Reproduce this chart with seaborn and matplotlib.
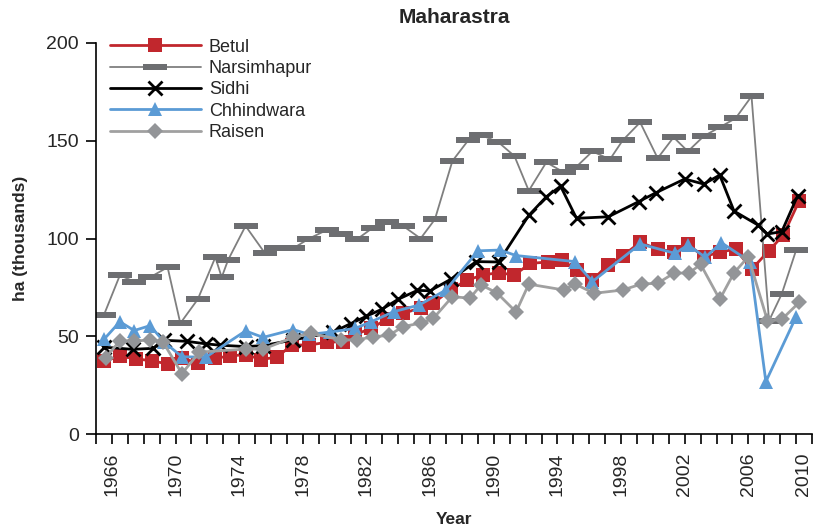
"""
Maharastra - area (thousand ha) by district, 1966-2010
Line chart with Excel-style markers, redrawn with seaborn
"""

import numpy as np
import matplotlib
matplotlib.use("Agg")
import matplotlib.pyplot as plt
from matplotlib.path import Path
from matplotlib.ticker import MultipleLocator
import seaborn as sns

# ---- data (x = year position, y = thousand ha) ----
betul_year = [1965.5, 1966.5, 1967.5, 1968.5, 1969.5, 1970.4, 1971.4, 1972.5, 1973.4, 1974.4,
              1975.4, 1976.4, 1977.3, 1978.4, 1979.5, 1980.5, 1981.3, 1982.3, 1983.3, 1984.3,
              1985.4, 1986.2, 1987.3, 1988.3, 1989.3, 1990.3, 1991.3, 1992.3, 1993.4, 1994.3,
              1995.2, 1996.2, 1997.2, 1998.1, 1999.2, 2000.3, 2001.3, 2002.2, 2003.2, 2004.2,
              2005.2, 2006.2, 2007.3, 2008.2, 2009.2]
betul_ha = [37.4, 39.8, 38.6, 37.5, 36.0, 38.8, 36.5, 38.8, 40.0, 40.7,
            38.2, 39.5, 45.6, 45.6, 47.0, 47.3, 51.0, 54.1, 59.0, 61.8,
            64.5, 66.9, 74.0, 78.6, 81.4, 82.5, 81.4, 87.3, 88.0, 89.2,
            83.7, 78.8, 86.7, 91.2, 98.0, 94.6, 93.3, 97.0, 90.7, 93.0,
            94.6, 84.3, 93.8, 101.8, 119.3]

narsimhapur_year = [1965.5, 1966.5, 1967.4, 1968.4, 1969.5, 1970.3, 1971.4, 1972.5, 1972.9, 1973.3,
                    1974.4, 1975.6, 1976.3, 1977.4, 1978.4, 1979.5, 1980.4, 1981.4, 1982.4, 1983.3,
                    1984.3, 1985.4, 1986.3, 1987.4, 1988.4, 1989.2, 1990.3, 1991.3, 1992.2, 1993.3,
                    1994.4, 1995.2, 1996.2, 1997.3, 1998.1, 1999.2, 2000.3, 2001.3, 2002.2, 2003.2,
                    2004.2, 2005.2, 2006.2, 2007.3, 2008.1, 2009.0]
narsimhapur_ha = [61.0, 81.2, 78.0, 80.2, 85.3, 56.7, 69.0, 90.4, 80.2, 89.0,
                  106.4, 92.7, 95.0, 95.0, 100.0, 104.3, 102.3, 99.6, 105.5, 108.6,
                  106.4, 100.0, 109.8, 139.6, 150.2, 152.9, 149.1, 142.1, 124.4, 138.9,
                  133.8, 136.7, 144.5, 140.4, 150.1, 159.3, 141.0, 151.7, 144.5, 152.3,
                  156.8, 161.4, 172.6, 58.0, 71.7, 94.0]

sidhi_year = [1965.5, 1967.3, 1968.6, 1969.3, 1970.7, 1971.9, 1972.8, 1974.4, 1975.5, 1977.4,
              1979.9, 1981.0, 1982.0, 1983.0, 1984.0, 1985.2, 1986.0, 1987.3, 1988.9, 1990.3,
              1992.2, 1993.3, 1994.2, 1995.2, 1997.2, 1999.1, 2000.2, 2002.0, 2003.2, 2004.2,
              2005.1, 2006.6, 2007.2, 2008.1, 2009.1]
sidhi_ha = [44.5, 43.4, 43.9, 48.0, 47.5, 46.2, 45.5, 44.8, 45.3, 48.2,
            52.2, 56.5, 60.3, 64.0, 69.0, 73.5, 73.3, 79.2, 88.2, 88.0,
            111.8, 121.3, 126.7, 110.3, 111.1, 118.8, 123.4, 130.4, 127.8, 132.4,
            114.0, 106.9, 102.3, 103.5, 121.9]

chhindwara_year = [1965.5, 1966.5, 1967.4, 1968.4, 1969.3, 1970.4, 1971.9, 1974.4, 1975.5, 1977.4,
                   1978.4, 1979.7, 1981.3, 1982.3, 1983.7, 1985.3, 1987.0, 1989.0, 1990.4, 1991.4,
                   1995.1, 1996.2, 1999.2, 2001.4, 2002.2, 2003.3, 2004.3, 2006.1, 2007.1, 2009.0]
chhindwara_ha = [48.5, 57.5, 53.0, 55.5, 47.0, 39.6, 39.4, 52.8, 49.5, 53.5,
                 51.0, 52.2, 54.1, 57.5, 62.6, 66.0, 73.7, 93.7, 94.1, 91.3,
                 88.2, 78.0, 97.2, 92.4, 96.7, 90.4, 97.9, 88.2, 26.9, 60.0]

raisen_year = [1965.6, 1966.5, 1967.4, 1968.4, 1969.2, 1970.4, 1971.5, 1974.4, 1975.5, 1977.4,
               1978.5, 1980.4, 1981.4, 1982.4, 1983.4, 1984.3, 1985.4, 1986.2, 1987.4, 1988.5,
               1989.2, 1990.2, 1991.4, 1992.2, 1994.4, 1995.1, 1996.3, 1998.1, 1999.3, 2000.3,
               2001.3, 2002.3, 2003.0, 2004.2, 2005.1, 2006.0, 2007.2, 2008.1, 2009.2]
raisen_ha = [39.0, 47.8, 47.6, 48.2, 47.3, 31.0, 42.0, 43.5, 43.5, 49.5,
             51.6, 48.2, 48.2, 49.8, 50.5, 55.0, 56.8, 59.2, 70.3, 69.5,
             76.3, 72.2, 62.5, 76.7, 73.7, 76.8, 72.0, 73.7, 76.8, 77.1,
             82.2, 82.5, 86.8, 68.9, 82.5, 90.7, 58.0, 58.7, 67.4]

xtick_years = [1966, 1970, 1974, 1978, 1982, 1986, 1990, 1994, 1998, 2002, 2006, 2010]
ytick_values = [0, 50, 100, 150, 200]

# wide flat bar used as the Narsimhapur marker
dash_marker = Path([(-1, -0.28), (1, -0.28), (1, 0.28), (-1, 0.28), (-1, -0.28)],
                   [Path.MOVETO, Path.LINETO, Path.LINETO, Path.LINETO, Path.CLOSEPOLY])

series = [
    ("Betul", betul_year, betul_ha,
     dict(color="#C1272D", lw=2.0, marker="s", ms=9.5, mfc="#C1272D", mec="#C1272D", mew=0)),
    ("Narsimhapur", narsimhapur_year, narsimhapur_ha,
     dict(color="#7F7F7F", lw=1.3, marker=dash_marker, ms=17.5, mfc="#6D6E71", mec="#6D6E71", mew=0)),
    ("Sidhi", sidhi_year, sidhi_ha,
     dict(color="black", lw=2.0, marker="x", ms=9.5, mec="black", mew=2.0)),
    ("Chhindwara", chhindwara_year, chhindwara_ha,
     dict(color="#5B9BD5", lw=2.0, marker="^", ms=10.5, mfc="#5B9BD5", mec="#5B9BD5", mew=0)),
    ("Raisen", raisen_year, raisen_ha,
     dict(color="#A0A0A0", lw=2.0, marker="D", ms=8.5, mfc="#939598", mec="#939598", mew=0)),
]

sns.set_style("white")
plt.rcParams["font.family"] = ["Liberation Sans", "DejaVu Sans"]

fig = plt.figure(figsize=(8.15, 5.29), dpi=100)
ax = fig.add_axes([96 / 815, 94.7 / 529, 716 / 815, 391.6 / 529])

for name, xs, ys, style in series:
    sns.lineplot(x=xs, y=ys, ax=ax, label=name, sort=False, estimator=None, **style)

ax.set_xlim(1965, 2010)
ax.set_ylim(0, 200)
ax.set_xticks(xtick_years)
ax.set_xticklabels([str(y) for y in xtick_years], rotation=90, fontsize=14)
# last label sits flush with the end of the axis, as in the original
ax.get_xticklabels()[-1].set_horizontalalignment("right")
ax.xaxis.set_minor_locator(MultipleLocator(1))
ax.set_yticks(ytick_values)
ax.set_yticklabels([str(v) for v in ytick_values], fontsize=14)

ax.tick_params(axis="x", which="both", direction="out", length=7, width=1.2,
               color="black", bottom=True, pad=6)
ax.tick_params(axis="y", which="major", direction="out", length=7.5, width=1.2,
               color="black", left=True, pad=5)

for side in ["top", "right"]:
    ax.spines[side].set_visible(False)
for side in ["left", "bottom"]:
    ax.spines[side].set_color("black")
    ax.spines[side].set_linewidth(1.2)

ax.set_title("Maharastra", fontsize=15, fontweight="bold", pad=14)
ax.set_ylabel("ha (thousands)", fontsize=12.5, fontweight="bold", labelpad=13)
ax.set_xlabel("Year", fontsize=12.5, fontweight="bold", labelpad=11.5)

ax.legend(loc="upper left", bbox_to_anchor=(0.02, 1.01), frameon=False,
          fontsize=13, handlelength=5.0, handletextpad=0.45, labelspacing=0.24,
          borderpad=0, borderaxespad=0)

fig.savefig("out.png", dpi=100)
